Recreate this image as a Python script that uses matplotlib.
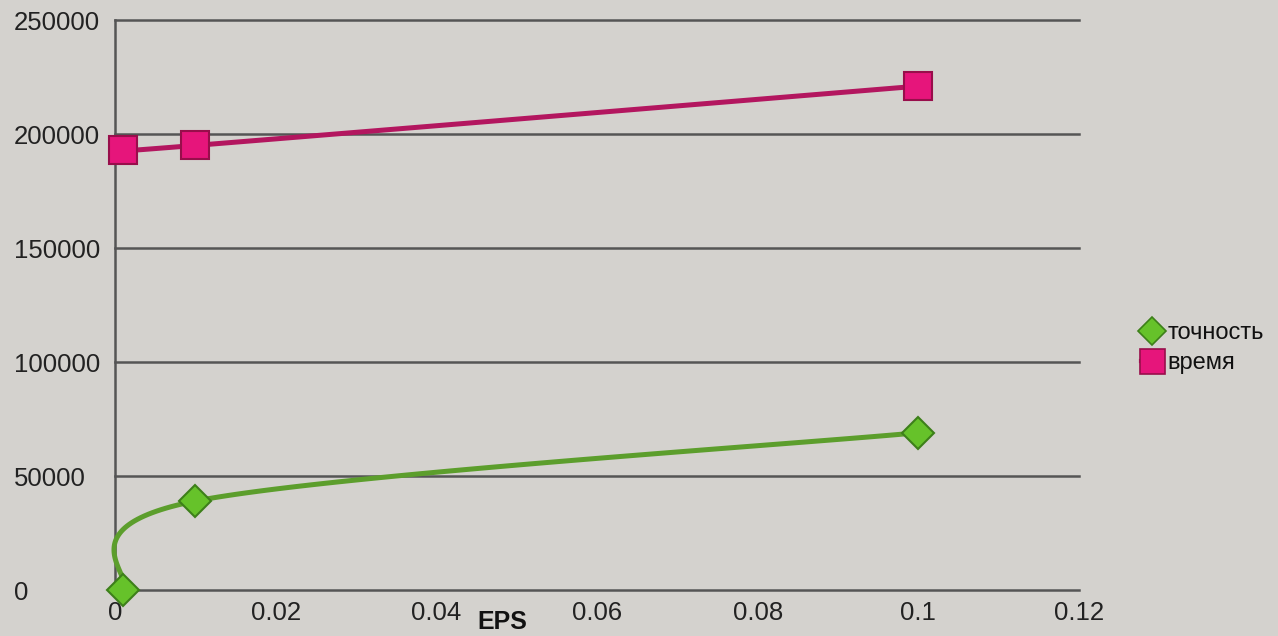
import numpy as np
import matplotlib.pyplot as plt
from matplotlib.lines import Line2D

# measured values
eps = [0.001, 0.01, 0.1]
accuracy = [0, 39000, 69000]
run_time = [193000, 195000, 221000]

x_ticks = [0, 0.02, 0.04, 0.06, 0.08, 0.1, 0.12]
x_tick_labels = ['0', '0.02', '0.04', '0.06', '0.08', '0.1', '0.12']
y_ticks = [0, 50000, 100000, 150000, 200000, 250000]

bg = '#d4d2ce'
grid_color = '#555555'
green_line, green_face, green_edge = '#5c9e2c', '#66c22a', '#3d7f1a'
pink_line, pink_face, pink_edge = '#b3165f', '#e6157b', '#980e4b'


def smooth(xs, ys, n=60):
    """Catmull-Rom style bezier smoothing through the points (spreadsheet-like)."""
    pts = np.column_stack([xs, ys]).astype(float)
    ext = np.vstack([pts[0], pts, pts[-1]])
    out = []
    for i in range(len(pts) - 1):
        p0, p1, p2, p3 = ext[i], ext[i + 1], ext[i + 2], ext[i + 3]
        c1 = p1 + (p2 - p0) / 6
        c2 = p2 - (p3 - p1) / 6
        t = np.linspace(0, 1, n)[:, None]
        seg = ((1 - t) ** 3 * p1 + 3 * (1 - t) ** 2 * t * c1
               + 3 * (1 - t) * t ** 2 * c2 + t ** 3 * p2)
        out.append(seg if i == 0 else seg[1:])
    out = np.vstack(out)
    return out[:, 0], out[:, 1]


plt.rcParams['font.family'] = ['Liberation Sans', 'DejaVu Sans']

fig = plt.figure(figsize=(12.78, 6.36), dpi=100, facecolor=bg)
ax = fig.add_axes([115 / 1278, 46 / 636, 964 / 1278, 570 / 636])
ax.set_facecolor(bg)

ax.set_xlim(0, 0.12)
ax.set_ylim(0, 250000)
ax.set_xticks(x_ticks)
ax.set_xticklabels(x_tick_labels)
ax.set_yticks(y_ticks)
ax.set_yticklabels([str(v) for v in y_ticks])
ax.tick_params(length=0, labelsize=18.5, labelcolor='#222222')
ax.tick_params(axis='y', pad=73)
ax.tick_params(axis='x', pad=8)
for lbl in ax.get_yticklabels():
    lbl.set_ha('left')

for s in ['top', 'right', 'bottom']:
    ax.spines[s].set_visible(False)
ax.spines['left'].set_color(grid_color)
ax.spines['left'].set_linewidth(1.8)
ax.yaxis.grid(True, color=grid_color, linewidth=1.8)
for gl in ax.get_ygridlines():
    gl.set_clip_on(False)
ax.set_axisbelow(True)

gx, gy = smooth(eps, accuracy)
ax.plot(gx, gy, color=green_line, lw=3.6, clip_on=False, zorder=3)
ax.plot(eps, accuracy, linestyle='none', marker='D', ms=16, mfc=green_face,
        mec=green_edge, mew=1.5, clip_on=False, zorder=4)

px, py = smooth(eps, run_time)
ax.plot(px, py, color=pink_line, lw=3.6, clip_on=False, zorder=3)
ax.plot(eps, run_time, linestyle='none', marker='s', ms=20, mfc=pink_face,
        mec=pink_edge, mew=1.5, clip_on=False, zorder=4)

fig.text(502 / 1278, 1 - 622 / 636, 'EPS', ha='center', va='center',
         fontsize=18, fontweight='bold', color='#111111')

handles = [
    Line2D([], [], color=green_line, lw=3, marker='D', ms=14, mfc=green_face,
           mec=green_edge, mew=1.2),
    Line2D([], [], color=pink_line, lw=3, marker='s', ms=18, mfc=pink_face,
           mec=pink_edge, mew=1.2),
]
fig.legend(handles, ['точность', 'время'], loc='center left',
           bbox_to_anchor=(1132 / 1278, 1 - 348 / 636), frameon=False,
           handlelength=0.9, handletextpad=0.2, labelspacing=0.35,
           fontsize=17, labelcolor='#111111', borderaxespad=0)

fig.savefig('out.png', dpi=100, facecolor=bg)
